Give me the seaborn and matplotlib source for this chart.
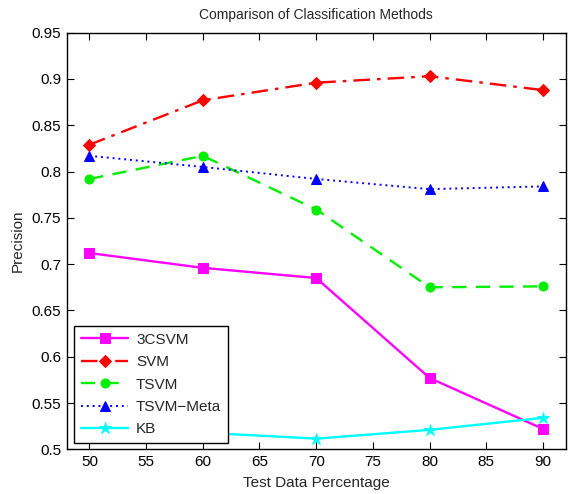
import pandas as pd
import matplotlib
matplotlib.use("Agg")
import matplotlib.pyplot as plt
import seaborn as sns

# test data percentage
pct = [50, 60, 70, 80, 90]

# precision per method
csvm3 = [0.712, 0.696, 0.685, 0.577, 0.522]
svm = [0.829, 0.877, 0.896, 0.903, 0.888]
tsvm = [0.792, 0.817, 0.759, 0.675, 0.676]
tsvm_meta = [0.817, 0.805, 0.792, 0.781, 0.784]
kb = [0.521, 0.518, 0.5115, 0.521, 0.534]

methods = ['3CSVM', 'SVM', 'TSVM', 'TSVM\u2212Meta', 'KB']
yticks = [0.5, 0.55, 0.6, 0.65, 0.7, 0.75, 0.8, 0.85, 0.9, 0.95]
ytick_labels = ['0.5', '0.55', '0.6', '0.65', '0.7', '0.75', '0.8', '0.85', '0.9', '0.95']

sns.set_theme(style="white")
plt.rcParams['font.family'] = ['Liberation Sans', 'DejaVu Sans']

fig = plt.figure(figsize=(5.68, 4.94), dpi=100)
ax = fig.add_axes([0.1174, 0.0905, 0.8786, 0.8433])

series = [
    (csvm3, '#ff00ff', 's', '-', 6.5, 1.7),
    (svm, '#ff0000', 'D', (0, (7, 3, 1.5, 3)), 6.0, 1.7),
    (tsvm, '#00ee00', 'o', (0, (6, 4)), 6.5, 1.7),
    (tsvm_meta, '#0000ff', '^', (0, (1, 2)), 7.0, 1.4),
    (kb, '#00ffff', '*', '-', 9.0, 1.7),
]

for (vals, color, marker, ls, ms, lw), name in zip(series, methods):
    df = pd.DataFrame({'pct': pct, 'precision': vals})
    sns.lineplot(data=df, x='pct', y='precision', color=color, marker=marker,
                 markersize=ms, markeredgecolor=color, linestyle=ls,
                 linewidth=lw, label=name, ax=ax)

ax.set_xlim(48, 92)
ax.set_ylim(0.5, 0.95)
ax.set_xticks([50, 55, 60, 65, 70, 75, 80, 85, 90])
ax.set_yticks(yticks)
ax.set_yticklabels(ytick_labels)
ax.tick_params(direction='in', length=5, width=0.8, top=True, right=True,
               bottom=True, left=True, labelsize=11, colors='black', pad=4)
for side in ['top', 'bottom', 'left', 'right']:
    ax.spines[side].set_visible(True)
    ax.spines[side].set_color('black')
    ax.spines[side].set_linewidth(1.0)

ax.set_title('Comparison of Classification Methods', fontsize=10, pad=10)
ax.set_xlabel('Test Data Percentage', fontsize=11, labelpad=5)
ax.set_ylabel('Precision', fontsize=11, labelpad=5)

leg = ax.legend(loc='lower left', bbox_to_anchor=(0.015, 0.0145), borderaxespad=0,
                fontsize=11, frameon=True, fancybox=False, edgecolor='black',
                framealpha=1, handlelength=3.1, labelspacing=0.55,
                handletextpad=0.5, borderpad=0.45)
leg.get_frame().set_linewidth(1.0)

plt.savefig('out.png', dpi=100)
